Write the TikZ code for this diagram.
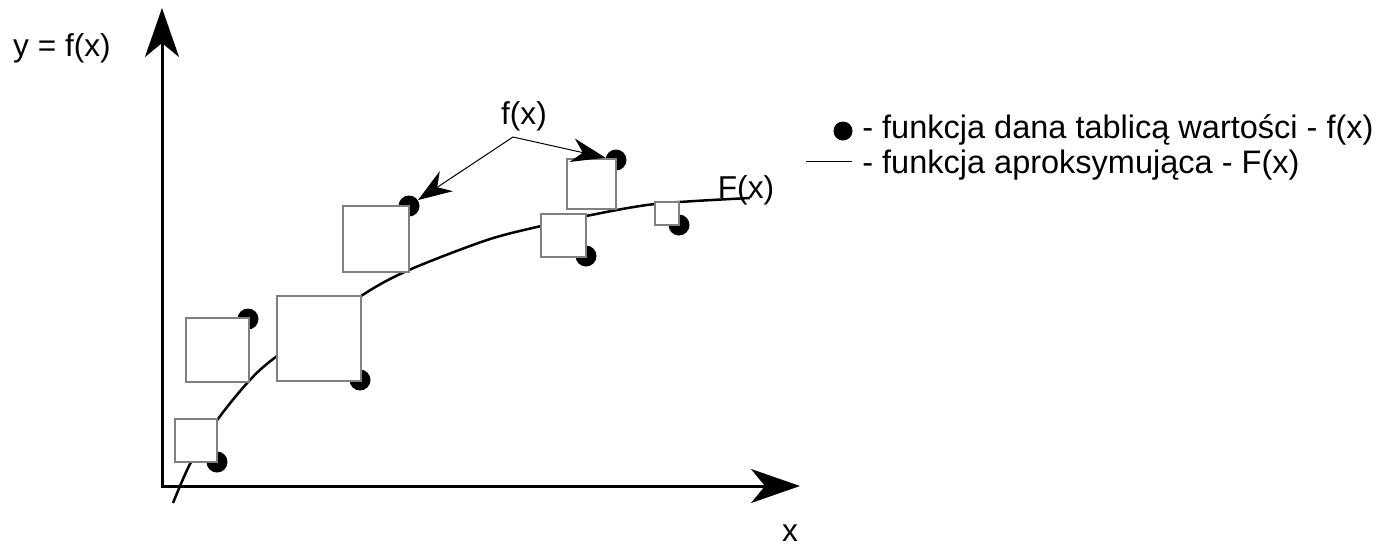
\documentclass[tikz,border=0pt]{standalone}
\usepackage{fontspec}
\setmainfont{Liberation Sans}
\usetikzlibrary{arrows.meta}
\begin{document}
\begin{tikzpicture}[x=0.02cm,y=-0.02cm,
  font=\fontsize{18}{21}\selectfont,
  axis/.style={line width=0.06cm,-{Stealth[length=0.98cm,width=0.68cm,inset=0.28cm]}},
  curve/.style={line width=0.05cm},
  sq/.style={draw=black!50,fill=white,line width=0.03cm,inner sep=0pt},
  dot/.style={circle,fill=black,inner sep=0pt,minimum size=0.42cm},
  pointer/.style={line width=0.02cm,-{Stealth[length=0.68cm,width=0.48cm,inset=0.22cm]}},
  lbl/.style={inner sep=0pt},
  legtext/.style={inner sep=0pt,anchor=west,font=\fontsize{18.5}{21}\selectfont}]
\useasboundingbox (0,0) rectangle (1386,549);
% axes
\coordinate (O) at (162,486);
\coordinate (ytip) at (162,8);
\coordinate (xtip) at (800,486);
\draw[axis] (162,487.5) -- (ytip);
\draw[axis] (160.5,486) -- (xtip);
\node[lbl] (ylab) at (62,48) {y = f(x)};
\node[lbl] (xlab) at (790,533) {x};
% approximating curve
\draw[curve] plot[smooth,tension=0.5] coordinates {(173,503) (191,462) (218,419) (249,381) (277,356) (361,296) (409,270) (487,240) (541,226) (586,216) (655,204) (750,198)};
% data points
\node[dot] (dA) at (217,462) {};
\node[dot] (dB) at (248,319) {};
\node[dot] (dC) at (360,380) {};
\node[dot] (dD) at (409,206) {};
\node[dot] (dE) at (586,256) {};
\node[dot] (dF) at (616,160) {};
\node[dot] (dG) at (679,225) {};
% squares
\node[sq,minimum width=0.84cm,minimum height=0.86cm] (sA) at (196,440.5) {};
\node[sq,minimum width=1.26cm,minimum height=1.28cm] (sB) at (217.5,350) {};
\node[sq,minimum width=1.68cm,minimum height=1.70cm] (sC) at (319,338.5) {};
\node[sq,minimum width=1.32cm,minimum height=1.32cm] (sD) at (376,239) {};
\node[sq,minimum width=0.90cm,minimum height=0.86cm] (sE) at (563.5,235.5) {};
\node[sq,minimum width=0.98cm,minimum height=1.00cm] (sF) at (591.5,184) {};
\node[sq,minimum width=0.48cm,minimum height=0.46cm] (sG) at (667,213.5) {};
% labels
\node[lbl] (Flab) at (746,190) {F(x)};
\node[lbl] (flab) at (524,116) {f(x)};
\coordinate (fxa) at (513,137);
\draw[pointer] (fxa) -- (dD);
\draw[pointer] (fxa) -- (dF);
% legend
\node[dot,minimum size=0.38cm] (ldot) at (843,131) {};
\coordinate (lla) at (806,161);
\coordinate (llb) at (852,161);
\draw[line width=0.02cm] (lla) -- (llb);
\node[legtext] (leg1) at (862,130) {- funkcja dana tablicą wartości - f(x)};
\node[legtext] (leg2) at (862,165) {- funkcja aproksymująca - F(x)};
\end{tikzpicture}
\end{document}
